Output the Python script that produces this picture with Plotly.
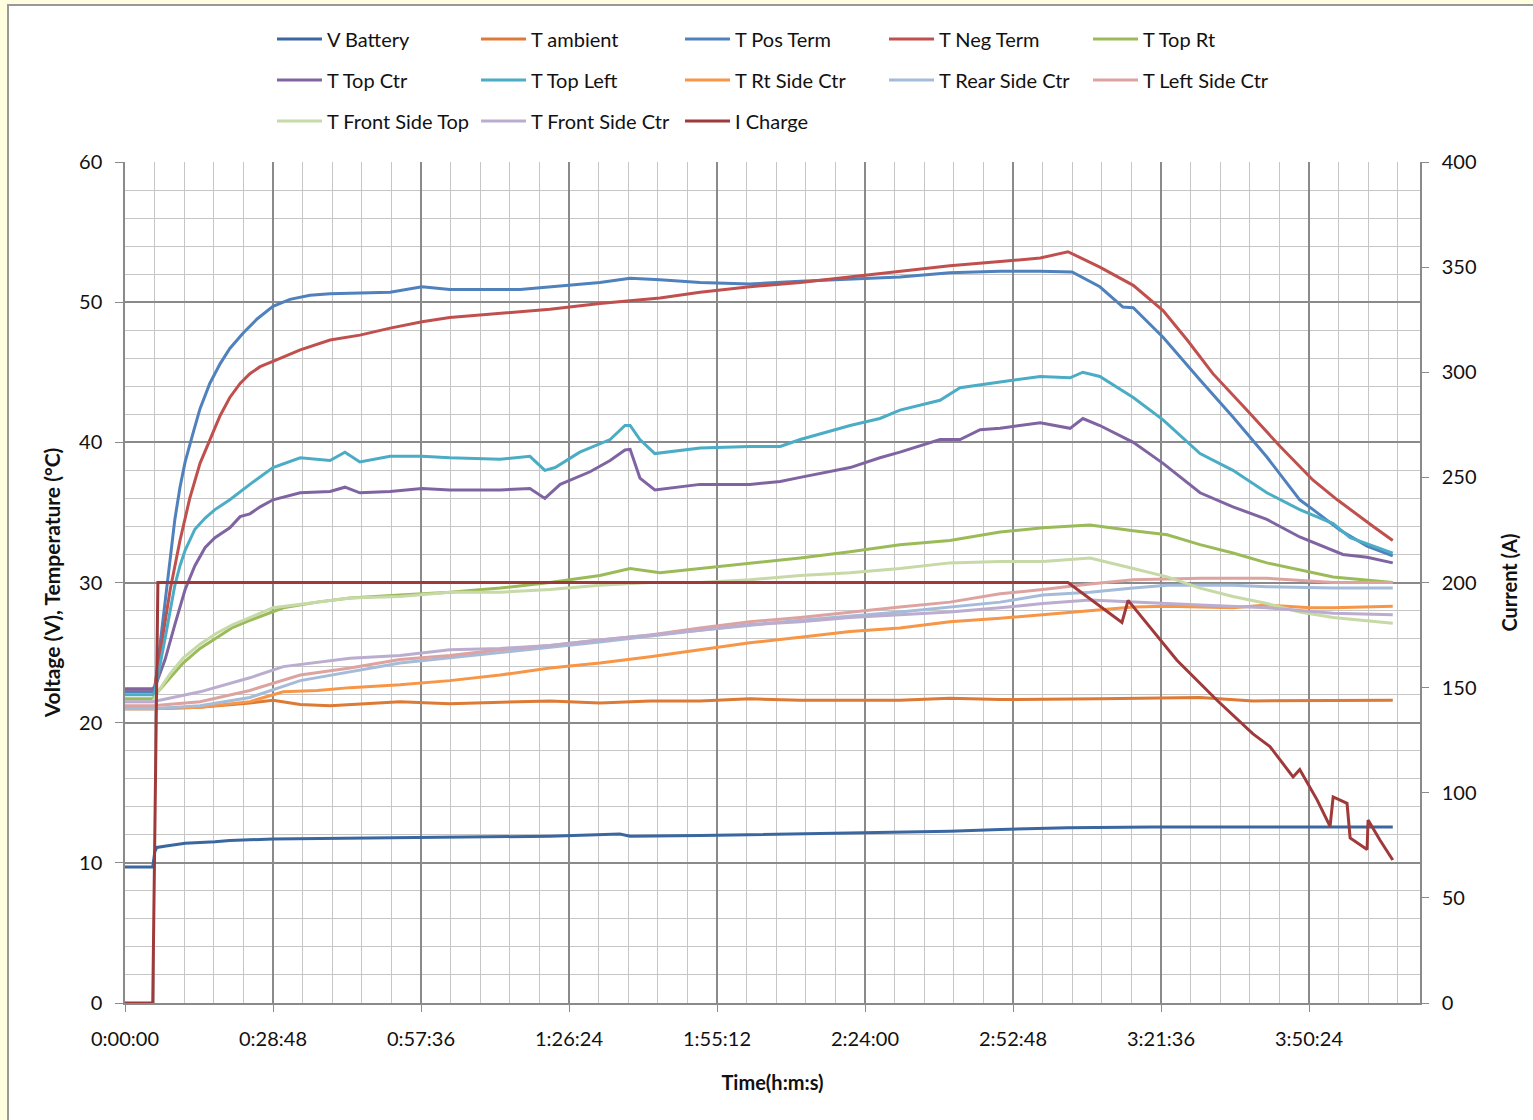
import plotly.graph_objects as go

# ---------------- data (time in minutes) ----------------
V_BAT_T = [0, 5.4, 5.8, 6.2, 8, 11.7, 17.5, 20.4, 28.8, 43.8, 63.2, 82.7, 96.3, 98.3, 111.9, 141.1, 160.5, 170.3, 183.5, 200, 246.7]
V_BAT_V = [9.7, 9.7, 10.8, 11.1, 11.2, 11.4, 11.5, 11.6, 11.7, 11.75, 11.82, 11.9, 12.05, 11.9, 11.95, 12.1, 12.25, 12.38, 12.5, 12.55, 12.55]

T_AMB_T = [0, 5.4, 14.6, 24.3, 28.8, 34.1, 39.9, 53.5, 63.2, 73.0, 82.7, 92.4, 102.2, 111.9, 121.6, 131.4, 150.8, 160.5, 170.3, 189.7, 209.2, 219.5, 228.6, 246.7]
T_AMB_V = [21.0, 21.0, 21.1, 21.4, 21.6, 21.3, 21.2, 21.5, 21.35, 21.45, 21.55, 21.4, 21.55, 21.55, 21.7, 21.6, 21.6, 21.75, 21.65, 21.7, 21.8, 21.55, 21.55, 21.6]

T_POS_T = [0, 5.4, 5.8, 6.8, 7.8, 8.8, 9.7, 10.7, 11.7, 13.2, 14.6, 16.5, 18.5, 20.4, 23.0, 25.7, 28.8, 32.1, 36.0, 39.9, 45.7, 51.6, 57.8, 63.2, 76.9, 82.7, 92.4, 98.3, 104.1, 111.9, 121.6, 131.4, 141.1, 150.8, 160.5, 170.3, 178.1, 184.3, 189.7, 194.2, 196.2, 202.0, 209.2, 215.6, 222.2, 228.6, 231.2, 236.4, 241.7, 246.7]
T_POS_V = [22.2, 22.2, 22.4, 25.5, 29.0, 32.0, 34.5, 36.8, 38.6, 40.6, 42.4, 44.2, 45.6, 46.7, 47.8, 48.8, 49.7, 50.2, 50.5, 50.6, 50.65, 50.7, 51.1, 50.9, 50.9, 51.1, 51.4, 51.7, 51.6, 51.4, 51.3, 51.5, 51.65, 51.8, 52.1, 52.2, 52.2, 52.15, 51.1, 49.65, 49.6, 47.5, 44.45, 41.8, 38.95, 35.9, 35.2, 33.75, 32.6, 31.9]

T_NEG_T = [0, 5.4, 5.8, 6.8, 8.8, 10.7, 12.6, 14.6, 16.5, 18.5, 20.4, 22.4, 24.3, 26.3, 29.6, 34.1, 39.9, 45.7, 51.6, 57.8, 63.2, 73.0, 82.7, 92.4, 98.3, 104.1, 111.9, 121.6, 131.4, 141.1, 150.8, 160.5, 170.3, 178.1, 183.5, 189.7, 196.2, 202.0, 206.7, 211.7, 218.3, 224.8, 231.2, 235.9, 242.9, 246.7]
T_NEG_V = [22.4, 22.4, 22.6, 25.0, 29.5, 33.0, 36.0, 38.5, 40.2, 41.9, 43.2, 44.2, 44.9, 45.4, 45.9, 46.6, 47.3, 47.65, 48.15, 48.6, 48.9, 49.2, 49.5, 49.9, 50.1, 50.3, 50.7, 51.1, 51.4, 51.8, 52.15, 52.6, 52.9, 53.15, 53.6, 52.5, 51.2, 49.4, 47.3, 44.9, 42.3, 39.7, 37.3, 35.9, 34.0, 33.0]

T_TOPRT_T = [0, 5.4, 6.4, 8.8, 11.3, 14.6, 17.9, 21.0, 24.3, 30.8, 37.4, 43.8, 53.5, 63.2, 73.0, 82.7, 92.4, 98.3, 104.1, 111.9, 121.6, 131.4, 141.1, 150.8, 160.5, 170.3, 178.6, 187.8, 196.2, 202.8, 209.2, 215.6, 222.2, 228.6, 235.1, 246.7]
T_TOPRT_V = [21.7, 21.7, 22.2, 23.2, 24.25, 25.3, 26.1, 26.8, 27.3, 28.2, 28.6, 28.9, 29.1, 29.3, 29.6, 30.0, 30.5, 31.0, 30.7, 31.0, 31.4, 31.75, 32.2, 32.7, 33.0, 33.6, 33.9, 34.1, 33.7, 33.4, 32.7, 32.1, 31.4, 30.9, 30.4, 30.0]

T_TOPCTR_T = [0, 5.4, 5.8, 7.8, 9.7, 11.7, 13.6, 15.6, 17.5, 20.4, 22.4, 24.3, 26.3, 28.8, 34.1, 39.9, 42.8, 45.7, 51.6, 57.8, 63.2, 73.0, 78.8, 81.7, 84.7, 90.5, 94.4, 97.3, 98.3, 100.2, 103.1, 111.9, 121.6, 127.5, 131.4, 141.1, 146.9, 150.8, 158.6, 162.5, 166.4, 170.3, 178.1, 183.9, 186.4, 189.7, 196.2, 202.0, 209.2, 215.6, 222.2, 228.6, 237.0, 241.7, 246.7]
T_TOPCTR_V = [22.4, 22.4, 22.5, 24.5, 27.0, 29.5, 31.2, 32.5, 33.2, 33.9, 34.7, 34.9, 35.4, 35.9, 36.4, 36.5, 36.8, 36.4, 36.5, 36.7, 36.6, 36.6, 36.7, 36.0, 37.0, 37.9, 38.7, 39.45, 39.5, 37.45, 36.6, 37.0, 37.0, 37.2, 37.5, 38.2, 38.9, 39.3, 40.2, 40.2, 40.9, 41.0, 41.4, 41.0, 41.7, 41.2, 40.0, 38.5, 36.4, 35.4, 34.5, 33.25, 32.0, 31.8, 31.4]

T_TOPLEFT_T = [0, 5.4, 5.8, 6.8, 7.8, 8.8, 9.7, 10.7, 11.7, 13.6, 15.6, 17.5, 20.4, 24.3, 28.8, 34.1, 39.9, 42.8, 45.7, 51.6, 57.8, 63.2, 73.0, 78.8, 81.7, 83.7, 88.5, 94.4, 97.3, 98.3, 100.2, 103.1, 108.0, 111.9, 121.6, 127.5, 131.4, 141.1, 146.9, 150.8, 158.6, 162.5, 170.3, 178.1, 183.9, 186.4, 189.7, 196.2, 202.0, 209.2, 215.6, 222.2, 228.6, 235.1, 238.4, 246.7]
T_TOPLEFT_V = [22.0, 22.0, 22.2, 24.0, 26.0, 28.0, 29.8, 31.2, 32.3, 33.8, 34.6, 35.2, 35.9, 37.0, 38.2, 38.9, 38.7, 39.3, 38.6, 39.0, 39.0, 38.9, 38.8, 39.0, 38.0, 38.2, 39.3, 40.2, 41.2, 41.2, 40.2, 39.2, 39.4, 39.6, 39.7, 39.7, 40.2, 41.2, 41.7, 42.3, 43.0, 43.9, 44.3, 44.7, 44.6, 45.0, 44.7, 43.2, 41.6, 39.2, 38.0, 36.4, 35.2, 34.2, 33.2, 32.1]

T_RTSIDE_T = [0, 5.4, 14.6, 24.3, 30.8, 37.4, 43.8, 53.5, 63.2, 73.0, 82.7, 92.4, 102.2, 111.9, 121.6, 131.4, 141.1, 150.8, 160.5, 170.3, 178.6, 187.8, 196.2, 202.8, 209.2, 215.6, 222.2, 230.6, 235.1, 246.7]
T_RTSIDE_V = [21.0, 21.0, 21.1, 21.5, 22.2, 22.3, 22.5, 22.7, 23.0, 23.4, 23.9, 24.25, 24.7, 25.2, 25.7, 26.1, 26.5, 26.75, 27.2, 27.45, 27.7, 28.0, 28.25, 28.3, 28.25, 28.2, 28.4, 28.2, 28.2, 28.3]

T_REAR_T = [0, 5.4, 14.6, 24.3, 34.1, 43.8, 53.5, 73.0, 92.4, 111.9, 131.4, 150.8, 170.3, 178.6, 187.8, 196.2, 202.8, 215.6, 222.2, 235.1, 246.7]
T_REAR_V = [21.0, 21.0, 21.2, 21.8, 23.0, 23.6, 24.25, 25.0, 25.75, 26.6, 27.3, 27.9, 28.6, 29.1, 29.3, 29.6, 29.8, 29.8, 29.7, 29.6, 29.6]

T_LEFTSIDE_T = [0, 5.4, 14.6, 24.3, 34.1, 43.8, 53.5, 63.2, 73.0, 82.7, 92.4, 102.2, 111.9, 121.6, 131.4, 141.1, 150.8, 160.5, 170.3, 178.6, 187.8, 196.2, 209.2, 222.2, 235.1, 246.7]
T_LEFTSIDE_V = [21.2, 21.2, 21.5, 22.3, 23.4, 23.9, 24.5, 24.8, 25.2, 25.5, 25.9, 26.25, 26.75, 27.2, 27.5, 27.9, 28.25, 28.6, 29.2, 29.5, 29.9, 30.2, 30.3, 30.3, 30.0, 30.0]

T_FRONTTOP_T = [0, 5.4, 6.4, 8.8, 11.3, 14.6, 17.9, 21.0, 24.3, 28.8, 43.8, 53.5, 63.2, 73.0, 82.7, 92.4, 102.2, 111.9, 121.6, 131.4, 141.1, 150.8, 160.5, 170.3, 178.6, 187.8, 196.2, 202.8, 209.2, 215.6, 222.2, 228.6, 235.1, 246.7]
T_FRONTTOP_V = [21.5, 21.5, 22.2, 23.5, 24.6, 25.6, 26.4, 27.0, 27.5, 28.2, 28.9, 29.0, 29.3, 29.3, 29.5, 29.8, 30.0, 30.0, 30.2, 30.5, 30.7, 31.0, 31.4, 31.5, 31.5, 31.75, 31.0, 30.4, 29.6, 29.0, 28.5, 27.9, 27.5, 27.1]

T_FRONTCTR_T = [0, 5.4, 14.6, 24.3, 30.8, 37.4, 43.8, 53.5, 63.2, 73.0, 82.7, 92.4, 102.2, 111.9, 121.6, 131.4, 141.1, 150.8, 160.5, 170.3, 178.6, 187.8, 196.2, 209.2, 222.2, 235.1, 246.7]
T_FRONTCTR_V = [21.5, 21.5, 22.2, 23.2, 24.0, 24.3, 24.6, 24.8, 25.2, 25.3, 25.5, 25.9, 26.25, 26.6, 27.0, 27.2, 27.5, 27.7, 27.9, 28.2, 28.5, 28.75, 28.6, 28.4, 28.2, 27.8, 27.7]

I_CHG_T = [0, 5.4, 6.4, 183.5, 194.0, 195.2, 204.7, 212.5, 219.5, 222.8, 227.3, 228.6, 232.0, 234.5, 235.1, 237.8, 238.4, 241.7, 241.9, 244.2, 246.7]
I_CHG_V = [0, 0, 200, 200, 181, 191.5, 163, 144, 128, 122, 107.5, 111, 96.5, 84, 98, 95, 78.5, 73, 87, 77.5, 68]

X_TICK_SECONDS = [0, 1728, 3456, 5184, 6912, 8640, 10368, 12096, 13824]
X_TICK_LABELS = ["0:00:00", "0:28:48", "0:57:36", "1:26:24", "1:55:12", "2:24:00", "2:52:48", "3:21:36", "3:50:24"]

# (name, times, values, colour, axis, legend row)
SERIES = [
    ("V Battery", V_BAT_T, V_BAT_V, "#3A67A0", "y", "legend"),
    ("T ambient", T_AMB_T, T_AMB_V, "#DD7A35", "y", "legend"),
    ("T Pos Term", T_POS_T, T_POS_V, "#4F81BD", "y", "legend"),
    ("T Neg Term", T_NEG_T, T_NEG_V, "#C0504D", "y", "legend"),
    ("T Top Rt", T_TOPRT_T, T_TOPRT_V, "#9BBB59", "y", "legend"),
    ("T Top Ctr", T_TOPCTR_T, T_TOPCTR_V, "#8064A2", "y", "legend2"),
    ("T Top Left", T_TOPLEFT_T, T_TOPLEFT_V, "#4BACC6", "y", "legend2"),
    ("T Rt Side Ctr", T_RTSIDE_T, T_RTSIDE_V, "#F79646", "y", "legend2"),
    ("T Rear Side Ctr", T_REAR_T, T_REAR_V, "#A5BBDA", "y", "legend2"),
    ("T Left Side Ctr", T_LEFTSIDE_T, T_LEFTSIDE_V, "#DDA3A1", "y", "legend2"),
    ("T Front Side Top", T_FRONTTOP_T, T_FRONTTOP_V, "#C6D9A6", "y", "legend3"),
    ("T Front Side Ctr", T_FRONTCTR_T, T_FRONTCTR_V, "#BBADD0", "y", "legend3"),
    ("I Charge", I_CHG_T, I_CHG_V, "#A0393A", "y2", "legend3"),
]

FONT = "Lato, 'Open Sans', sans-serif"

fig = go.Figure()
for name, t, v, col, ax, leg in SERIES:
    fig.add_trace(go.Scatter(
        x=[m * 60 for m in t], y=v, name=name, mode="lines",
        line=dict(color=col, width=3), yaxis=ax, legend=leg,
    ))

W, H = 1533, 1120
L, R, T, B = 125, 113, 162, 117
pw, ph = W - L - R, H - T - B

def px_x(p):
    return (p - L) / pw

def px_y(p):
    return 1 - (p - T) / ph

MAJ = "#8a8a8a"
MIN = "#c6c6c6"

legend_common = dict(
    orientation="h", xanchor="left", yanchor="middle", x=px_x(272),
    entrywidth=144, entrywidthmode="pixels", itemwidth=45,
    font=dict(family=FONT, size=20, color="#111"), bgcolor="rgba(0,0,0,0)",
    traceorder="normal",
)

fig.update_layout(
    width=W, height=H,
    margin=dict(l=L, r=R, t=T, b=B, autoexpand=False),
    paper_bgcolor="#FFFFE0", plot_bgcolor="white",
    font=dict(family=FONT, size=20, color="#111"),
    showlegend=True,
    legend=dict(legend_common, y=px_y(39)),
    legend2=dict(legend_common, y=px_y(80)),
    legend3=dict(legend_common, y=px_y(121)),
    xaxis=dict(
        range=[0, 15120], tickmode="array", tickvals=X_TICK_SECONDS, ticktext=X_TICK_LABELS,
        showgrid=True, gridcolor=MAJ, gridwidth=1.5, zeroline=False,
        showline=True, linecolor=MAJ, linewidth=1.5,
        ticks="outside", ticklen=7, tickcolor=MAJ, ticklabelstandoff=10,
        minor=dict(tick0=0, dtick=345.6, showgrid=True, gridcolor=MIN, gridwidth=1, ticks=""),
        title=dict(text="<b>Time(h:m:s)</b>", standoff=27, font=dict(size=20)),
        tickfont=dict(size=20),
    ),
    yaxis=dict(
        range=[0, 60], tickmode="linear", tick0=0, dtick=10,
        showgrid=True, gridcolor=MAJ, gridwidth=1.5, zeroline=False,
        showline=True, linecolor=MAJ, linewidth=1.5,
        ticks="outside", ticklen=8, tickcolor=MAJ, ticklabelstandoff=9,
        minor=dict(tick0=0, dtick=2, showgrid=True, gridcolor=MIN, gridwidth=1, ticks=""),
        title=dict(text="<b>Voltage (V), Temperature (°C)</b>", standoff=13, font=dict(size=21)),
        tickfont=dict(size=20),
    ),
    yaxis2=dict(
        range=[0, 400], overlaying="y", side="right", tickmode="linear", tick0=0, dtick=50,
        showgrid=False, zeroline=False,
        showline=True, linecolor=MAJ, linewidth=1.5,
        ticks="outside", ticklen=7, tickcolor=MAJ, ticklabelstandoff=9,
        title=dict(text="<b>Current (A)</b>", standoff=27, font=dict(size=20)),
        tickfont=dict(size=20),
    ),
    shapes=[dict(
        type="rect", xref="paper", yref="paper", layer="below",
        x0=px_x(8), x1=px_x(1560), y0=px_y(1140), y1=px_y(5),
        fillcolor="white", line=dict(color="#999999", width=2),
    )],
)

fig.write_html(
    "out.html",
    config={"displayModeBar": False},
    post_script="document.body.style.margin='0';document.body.style.padding='0';",
)
